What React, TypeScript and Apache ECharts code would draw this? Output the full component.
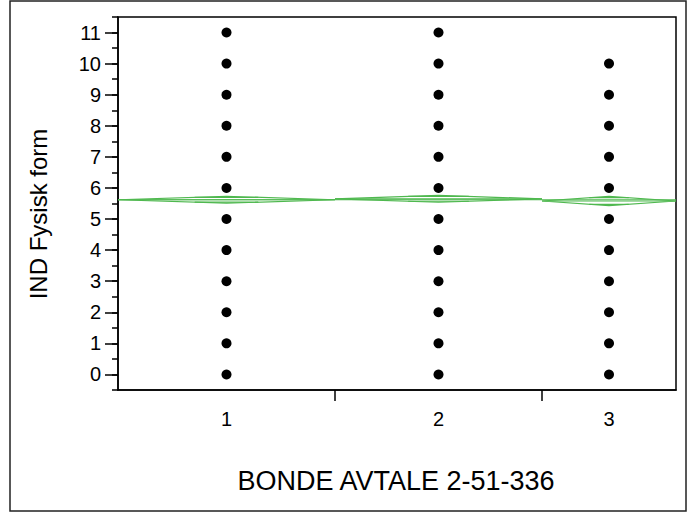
import React, { useEffect, useRef } from "react";
import * as echarts from "echarts";

const categories = ["1", "2", "3"];
const groupCounts = [217, 207, 134];
const group1Values = [0, 1, 2, 3, 4, 5, 6, 7, 8, 9, 10, 11];
const group2Values = [0, 1, 2, 3, 4, 5, 6, 7, 8, 9, 10, 11];
const group3Values = [0, 1, 2, 3, 4, 5, 6, 7, 8, 9, 10];
const groupMeans = [5.62, 5.65, 5.58];
const groupCI = [0.11, 0.11, 0.15];
const grandMean = 5.62;
const yTicks = [0, 1, 2, 3, 4, 5, 6, 7, 8, 9, 10, 11];
const xTitle = "BONDE AVTALE 2-51-336";
const yTitle = "IND Fysisk form";

const GREEN = "#4fb84f";

export default function App() {
  const ref = useRef<HTMLDivElement>(null);
  useEffect(() => {
    if (!ref.current) return;
    const chart = echarts.init(ref.current, null, { renderer: "svg" });
    const total = groupCounts.reduce((a, b) => a + b, 0);
    const starts: number[] = [];
    let acc = 0;
    groupCounts.forEach((c) => {
      starts.push(acc);
      acc += c;
    });
    const ends = starts.map((s, i) => s + groupCounts[i]);
    const centers = starts.map((s, i) => s + groupCounts[i] / 2);
    const boundaries = ends.slice(0, -1);
    const allGroups = [group1Values, group2Values, group3Values];
    const points: number[][] = [];
    allGroups.forEach((vals, gi) => vals.forEach((v) => points.push([centers[gi], v])));
    const diamondData = categories.map((_, i) => [starts[i], ends[i], groupMeans[i], groupCI[i], centers[i]]);
    const font = "Liberation Sans, Arial, sans-serif";

    chart.setOption({
      animation: false,
      grid: {
        left: 118,
        top: 17,
        right: 12,
        bottom: 123,
        show: true,
        borderColor: "#000",
        borderWidth: 1.5,
        backgroundColor: "#fff",
      },
      xAxis: {
        type: "value",
        min: 0,
        max: total,
        splitLine: { show: false },
        axisLine: { show: true, onZero: false, lineStyle: { color: "#000", width: 1.5 } },
        axisTick: {
          show: true,
          customValues: boundaries,
          length: 11,
          inside: false,
          lineStyle: { color: "#000", width: 1.5 },
        },
        axisLabel: {
          show: true,
          customValues: centers,
          margin: 19,
          textStyle: { fontSize: 20, fontFamily: font, color: "#000" },
          fontSize: 20,
          fontFamily: font,
          color: "#000",
          formatter: (v: number) => {
            const idx = centers.findIndex((c) => Math.abs(c - v) < 1e-6);
            return idx >= 0 ? categories[idx] : "";
          },
        },
      },
      yAxis: [
        {
          type: "value",
          min: -0.5,
          max: 11.5,
          interval: 0.5,
          position: "left",
          splitLine: { show: false },
          axisLine: { show: true, onZero: false, lineStyle: { color: "#000", width: 1.5 } },
          axisTick: {
            show: true,
            length: 6,
            inside: false,
            lineStyle: { color: "#000", width: 1.5 },
          },
          axisLabel: {
            show: true,
            margin: 17,
            fontSize: 20,
            fontFamily: font,
            color: "#000",
            formatter: (v: number) => (yTicks.indexOf(v) >= 0 ? String(v) : ""),
          },
        },
        {
          type: "value",
          min: -0.5,
          max: 11.5,
          position: "left",
          splitLine: { show: false },
          axisLine: { show: false, onZero: false },
          axisTick: {
            show: true,
            customValues: yTicks,
            length: 13,
            inside: false,
            lineStyle: { color: "#000", width: 1.5 },
          },
          axisLabel: { show: false },
        },
      ],
      graphic: [
        {
          type: "rect",
          shape: { x: 10, y: 1, width: 676, height: 510 },
          style: { fill: "none", stroke: "#222", lineWidth: 1.5 },
          silent: true,
          z: 100,
        },
        {
          type: "text",
          x: 38,
          y: 214,
          rotation: Math.PI / 2,
          style: {
            text: yTitle,
            fontSize: 24,
            fontFamily: font,
            fill: "#000",
            align: "center",
            verticalAlign: "middle",
          },
        },
        {
          type: "text",
          x: 396,
          y: 481,
          style: {
            text: xTitle,
            fontSize: 27,
            fontFamily: font,
            fill: "#000",
            align: "center",
            verticalAlign: "middle",
          },
        },
      ],
      series: [
        {
          type: "line",
          data: [
            [0, grandMean],
            [total, grandMean],
          ],
          showSymbol: false,
          symbol: "none",
          lineStyle: { color: GREEN, width: 1.2 },
          z: 2,
        },
        {
          type: "custom",
          data: diamondData,
          encode: { x: [0, 1], y: 2 },
          z: 3,
          renderItem: (params: any, api: any) => {
            const x0 = api.value(0);
            const x1 = api.value(1);
            const m = api.value(2);
            const ci = api.value(3);
            const xc = api.value(4);
            const left = api.coord([x0, m]);
            const right = api.coord([x1, m]);
            const top = api.coord([xc, m + ci]);
            const bottom = api.coord([xc, m - ci]);
            const hw = (right[0] - left[0]) / 2;
            const k = 1 / Math.SQRT2;
            const ovTop = api.coord([xc, m + ci * k]);
            const ovBot = api.coord([xc, m - ci * k]);
            const ovHalf = hw * (1 - k);
            const style = { stroke: GREEN, fill: "none", lineWidth: 1.2 };
            return {
              type: "group",
              children: [
                {
                  type: "polygon",
                  shape: { points: [left, top, right, bottom] },
                  style,
                },
                {
                  type: "line",
                  shape: { x1: left[0], y1: left[1], x2: right[0], y2: right[1] },
                  style,
                },
                {
                  type: "line",
                  shape: { x1: top[0] - ovHalf, y1: ovTop[1], x2: top[0] + ovHalf, y2: ovTop[1] },
                  style,
                },
                {
                  type: "line",
                  shape: { x1: top[0] - ovHalf, y1: ovBot[1], x2: top[0] + ovHalf, y2: ovBot[1] },
                  style,
                },
              ],
            };
          },
        },
        {
          type: "scatter",
          data: points,
          symbol: "circle",
          symbolSize: 10,
          itemStyle: { color: "#000", opacity: 1 },
          z: 5,
        },
      ],
    });
    return () => chart.dispose();
  }, []);

  return (
    <div
      ref={ref}
      style={{ position: "fixed", left: 0, top: 0, width: 688, height: 513, background: "#fff" }}
    />
  );
}
